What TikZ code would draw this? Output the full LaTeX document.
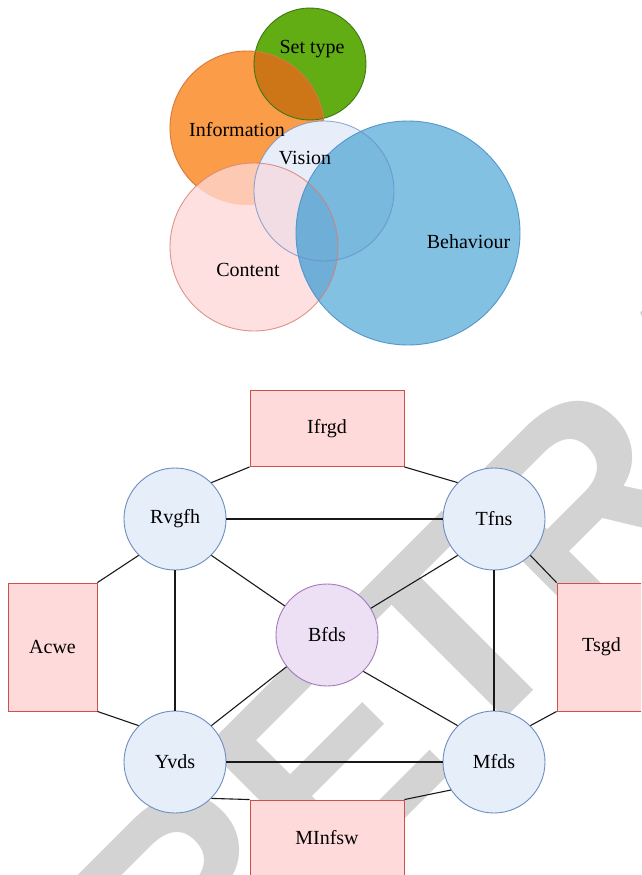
\documentclass[tikz,border=0pt]{standalone}
\usepackage{fontspec}
\setmainfont{Liberation Serif}
\newfontfamily\wmfont{Liberation Sans}
\definecolor{wmgray}{RGB}{211,211,211}
\definecolor{cgreen}{RGB}{98,172,20}
\definecolor{dgreen}{RGB}{60,120,20}
\definecolor{corange}{RGB}{250,156,72}
\definecolor{dorange}{RGB}{215,120,60}
\definecolor{cbrown}{RGB}{204,118,24}
\definecolor{cvision}{RGB}{231,238,250}
\definecolor{dvision}{RGB}{100,140,200}
\definecolor{ccontent}{RGB}{254,224,225}
\definecolor{dcontent}{RGB}{215,125,115}
\definecolor{cpeach}{RGB}{253,201,178}
\definecolor{cviscon}{RGB}{242,221,228}
\definecolor{cbeh}{RGB}{131,193,227}
\definecolor{dbeh}{RGB}{85,150,205}
\definecolor{cbehvis}{RGB}{121,185,222}
\definecolor{cbehcon}{RGB}{111,174,214}
\definecolor{nodefill}{RGB}{230,238,250}
\definecolor{nodedraw}{RGB}{108,142,191}
\definecolor{purfill}{RGB}{237,224,245}
\definecolor{purdraw}{RGB}{165,120,190}
\definecolor{recfill}{RGB}{255,218,218}
\definecolor{recdraw}{RGB}{205,80,75}
\definecolor{edgecol}{RGB}{25,25,25}
\tikzset{
  lbl/.style={font=\fontsize{20}{24}\selectfont, text=black, inner sep=0pt, anchor=base},
  gnode/.style={circle, minimum size=102pt, inner sep=0pt, draw=nodedraw, fill=nodefill, line width=0.9pt, font=\fontsize{20}{24}\selectfont},
  pnode/.style={gnode, draw=purdraw, fill=purfill},
  wide/.style={rectangle, minimum width=154pt, minimum height=76pt, inner sep=0pt, draw=recdraw, fill=recfill, line width=0.9pt, font=\fontsize{20}{24}\selectfont},
  tall/.style={rectangle, minimum width=89pt, minimum height=128pt, inner sep=0pt, draw=recdraw, fill=recfill, line width=0.9pt, font=\fontsize{20}{24}\selectfont},
  link/.style={draw=edgecol, line width=1.1pt},
  ring/.style={line width=0.9pt}
}
\begin{document}
\begin{tikzpicture}[x=1pt, y=-1pt]
\useasboundingbox (0,0) rectangle (641,875);
\clip (0,0) rectangle (641,875);
\fill[white] (0,0) rectangle (641,875);
% watermark
\node[rotate=45, anchor=base west, inner sep=0pt, text=wmgray, font=\wmfont\bfseries\fontsize{278}{278}\selectfont] (wm) at (186,1037.5) {RETRACTED};
% Venn part
\coordinate (set) at (310,64);
\coordinate (info) at (247,128);
\coordinate (vis) at (324,191);
\coordinate (con) at (254,247);
\coordinate (beh) at (408,233);
\fill[cgreen] (set) circle (56pt);
\fill[corange] (info) circle (77pt);
\begin{scope}
  \clip (set) circle (56pt);
  \fill[cbrown] (info) circle (77pt);
\end{scope}
\draw[dgreen, ring] (set) circle (56pt);
\draw[dorange, ring] (info) circle (77pt);
\fill[cvision] (vis) circle (70pt);
\fill[ccontent] (con) circle (84pt);
\begin{scope}
  \clip (con) circle (84pt);
  \fill[cpeach] (info) circle (77pt);
  \fill[cviscon] (vis) circle (70pt);
\end{scope}
\fill[cbeh] (beh) circle (112pt);
\begin{scope}
  \clip (beh) circle (112pt);
  \fill[cbehvis] (vis) circle (70pt);
  \fill[cbehcon] (con) circle (84pt);
\end{scope}
\draw[dvision, ring, opacity=0.7] (vis) circle (70pt);
\draw[dcontent, ring, opacity=0.8] (con) circle (84pt);
\draw[dbeh, ring] (beh) circle (112pt);
\node[lbl] (lset) at (312,53) {Set type};
\node[lbl] (linfo) at (237,136.5) {Information};
\node[lbl] (lvis) at (305,164) {Vision};
\node[lbl] (lbeh) at (468.5,248) {Behaviour};
\node[lbl] (lcon) at (248,276) {Content};
% graph part
\node[wide] (ifrgd) at (327,428.5) {Ifrgd};
\node[tall] (acwe) at (52.5,647) {Acwe};
\node[tall] (tsgd) at (601.5,647) {Tsgd};
\node[wide] (minfsw) at (327,838) {MInfsw};
\node[gnode] (rvgfh) at (175,519) {Rvgfh};
\node[gnode] (tfns) at (494,519) {Tfns};
\node[pnode] (bfds) at (327,635) {Bfds};
\node[gnode] (yvds) at (175,762) {Yvds};
\node[gnode] (mfds) at (494,762) {Mfds};
\draw[link] (ifrgd.south west) -- (rvgfh.45);
\draw[link] (ifrgd.south east) -- (tfns.135);
\draw[link] (acwe.north east) -- (rvgfh.225);
\draw[link] (acwe.south east) -- (yvds.135);
\draw[link] (tsgd.north west) -- (tfns.-45);
\draw[link] (tsgd.south west) -- (mfds.45);
\draw[link] (yvds.-45) -- (minfsw.north west);
\draw[link] (mfds.213) -- (minfsw.north east);
\draw[link] (rvgfh) -- (tfns);
\draw[link] (rvgfh.south east) -- (bfds);
\draw[link] (tfns.south west) -- (bfds);
\draw[link] (rvgfh) -- (yvds);
\draw[link] (tfns) -- (mfds);
\draw[link] (yvds.north east) -- (bfds);
\draw[link] (bfds.south east) -- (mfds.north west);
\draw[link] (yvds) -- (mfds);
\end{tikzpicture}
\end{document}
